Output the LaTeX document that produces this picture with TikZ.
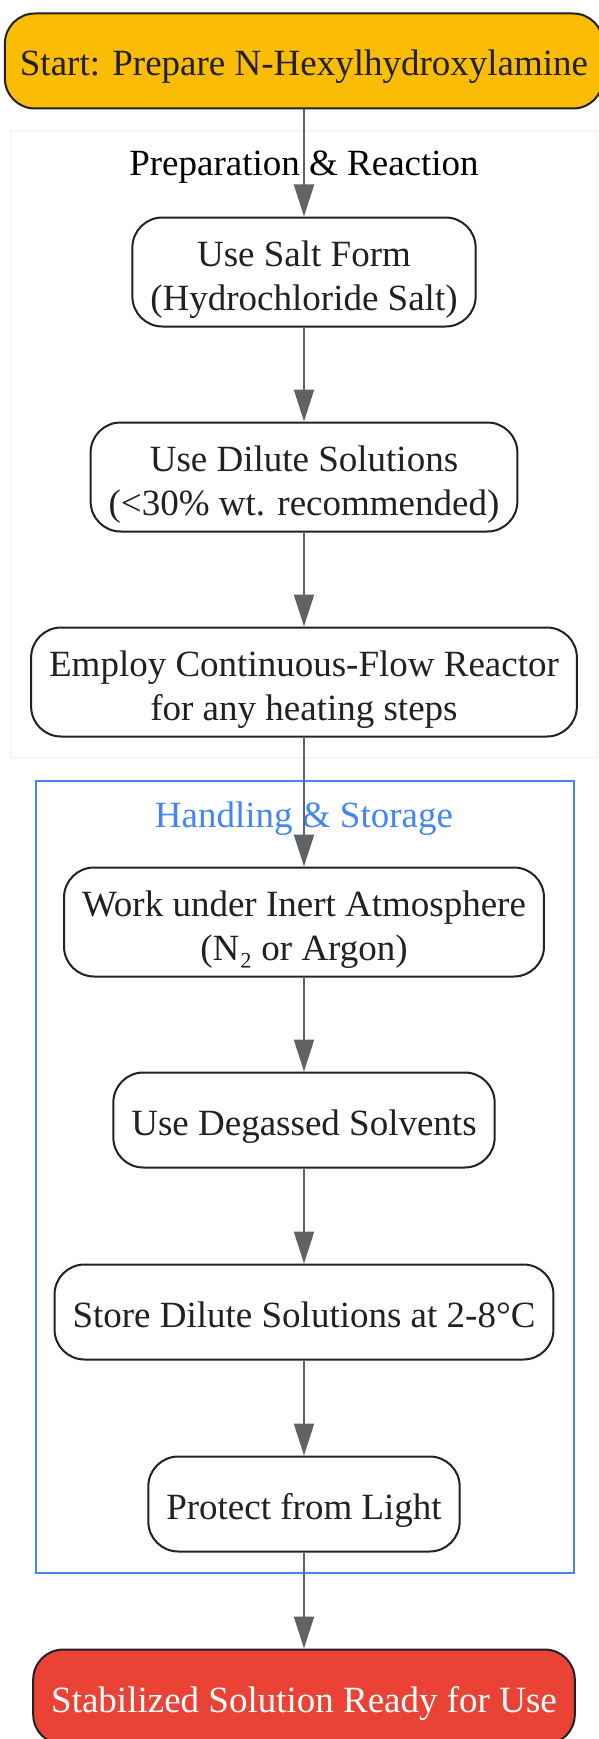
\documentclass[tikz,border=0pt]{standalone}
\usepackage{fontspec}
\setmainfont{Liberation Serif}
\usetikzlibrary{arrows.meta}

\definecolor{startfill}{HTML}{FBBC05}
\definecolor{readyfill}{HTML}{EA4335}
\definecolor{edgegray}{HTML}{5F6368}
\definecolor{boxline}{HTML}{202124}
\definecolor{groupblue}{HTML}{4285F4}
\definecolor{groupfaint}{HTML}{F3F7F6}

\tikzset{
  stepbox/.style={draw=boxline, line width=2pt, rounded corners=30pt, fill=white,
    text=boxline, align=center, inner xsep=18pt, inner ysep=12pt,
    minimum height=95pt, font=\fontsize{37}{44}\selectfont,
    text height=36pt, text depth=6pt},
  twoline/.style={text height=81pt, text depth=4pt},
  grouptitle/.style={font=\fontsize{37}{44}\selectfont},
  flowarrow/.style={draw=edgegray, line width=2pt, -{Triangle[length=32pt,width=20pt]}}
}

\begin{document}
\begin{tikzpicture}[x=1pt,y=-1pt]

  \useasboundingbox (0,0) rectangle (599,1739);

  \draw[groupfaint, line width=2pt] (11,131) rectangle (597,758);
  \node[grouptitle] (prepTitle) at (304,167) {Preparation \& Reaction};

  \draw[groupblue, line width=2pt] (35.5,781) rectangle (573.5,1573);
  \node[grouptitle, text=groupblue] (storeTitle) at (304,819) {Handling \& Storage};

  \node[stepbox, fill=startfill, inner xsep=15pt] (start) at (304,61) {Start: Prepare N-Hexylhydroxylamine};

  \node[stepbox, twoline] (salt) at (304,272) {Use Salt Form\\(Hydrochloride Salt)};
  \node[stepbox, twoline] (dilute) at (304,477) {Use Dilute Solutions\\(<30\% wt. recommended)};
  \node[stepbox, twoline] (flowreactor) at (304,682) {Employ Continuous-Flow Reactor\\for any heating steps};

  \node[stepbox, twoline] (inert) at (304,922) {Work under Inert Atmosphere\\(N₂ or Argon)};
  \node[stepbox] (degassed) at (304,1120) {Use Degassed Solvents};
  \node[stepbox] (cold) at (304,1312) {Store Dilute Solutions at 2-8°C};
  \node[stepbox] (light) at (304,1504) {Protect from Light};

  \node[stepbox, fill=readyfill, text=white] (ready) at (304,1697) {Stabilized Solution Ready for Use};

  \draw[flowarrow] (start) -- (salt);
  \draw[flowarrow] (salt) -- (dilute);
  \draw[flowarrow] (dilute) -- (flowreactor);
  \draw[flowarrow] (flowreactor) -- (inert);
  \draw[flowarrow] (inert) -- (degassed);
  \draw[flowarrow] (degassed) -- (cold);
  \draw[flowarrow] (cold) -- (light);
  \draw[flowarrow] (light) -- (ready);

\end{tikzpicture}
\end{document}
